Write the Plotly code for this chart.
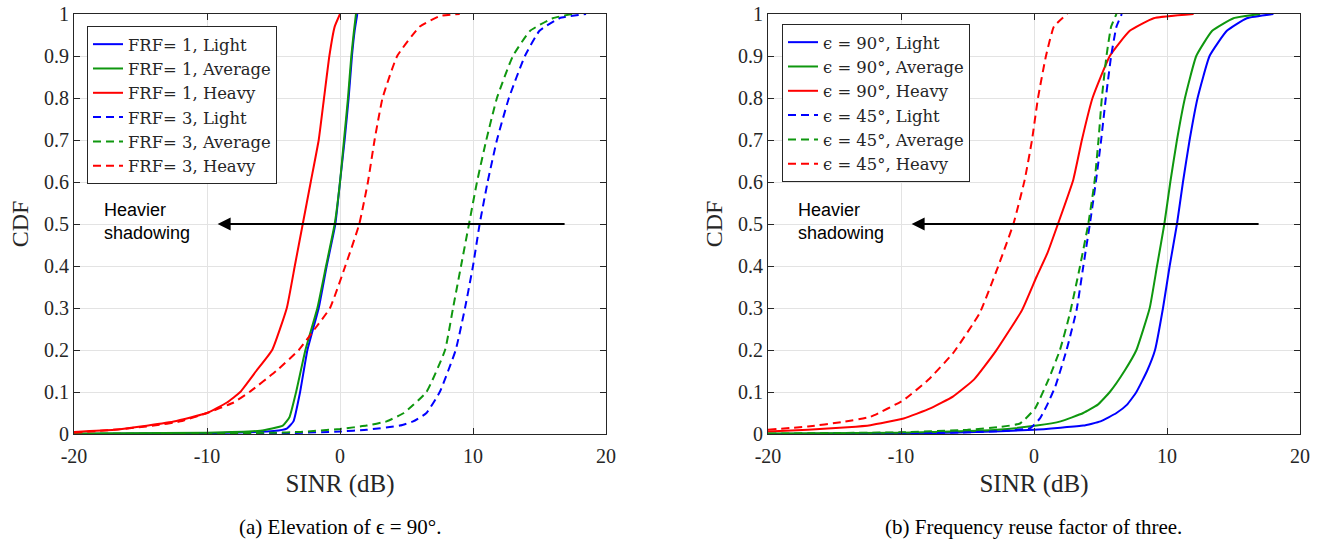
import plotly.graph_objects as go

# ---------------- data (left: elevation 90 deg) ----------------
frf1_light_x = [-20, -10, -5, -4, -3.5, -3.0, -2.45, -1.6, -1.0, -0.35, 0.0, 0.35, 0.65, 0.9, 1.1, 1.3]
frf1_light_y = [0.0, 0.002, 0.007, 0.013, 0.03, 0.1, 0.2, 0.3, 0.4, 0.5, 0.6, 0.7, 0.8, 0.9, 0.96, 1.0]
frf1_avg_x = [-20, -10, -6, -4.3, -3.8, -3.3, -2.6, -1.7, -1.05, -0.4, 0.0, 0.3, 0.6, 0.85, 1.05, 1.2]
frf1_avg_y = [0.001, 0.003, 0.008, 0.02, 0.04, 0.1, 0.2, 0.3, 0.4, 0.5, 0.6, 0.7, 0.8, 0.9, 0.96, 1.0]
frf1_heavy_x = [-20, -17, -15, -12.5, -10, -8.5, -7.5, -6.3, -5.1, -4.0, -3.4, -2.8, -2.2, -1.6, -1.2, -0.8, -0.4, 0.0]
frf1_heavy_y = [0.005, 0.01, 0.018, 0.03, 0.05, 0.075, 0.1, 0.15, 0.2, 0.3, 0.4, 0.5, 0.6, 0.7, 0.8, 0.9, 0.97, 1.0]
frf3_light_x = [-20, -5, 0, 2, 4.5, 5.5, 6.5, 7.5, 8.7, 9.4, 10.0, 10.5, 11.1, 11.8, 12.7, 13.9, 15.0, 16.5, 18.5]
frf3_light_y = [0.0, 0.001, 0.006, 0.01, 0.02, 0.03, 0.05, 0.1, 0.2, 0.3, 0.4, 0.5, 0.6, 0.7, 0.8, 0.9, 0.96, 0.99, 1.0]
frf3_avg_x = [-20, -5, -3, 0, 2, 3.5, 4.8, 6.5, 7.9, 8.5, 9.1, 9.7, 10.3, 11.0, 11.8, 13.0, 14.3, 16.0, 17.5]
frf3_avg_y = [0.0, 0.003, 0.005, 0.012, 0.02, 0.03, 0.05, 0.1, 0.2, 0.3, 0.4, 0.5, 0.6, 0.7, 0.8, 0.9, 0.96, 0.99, 1.0]
frf3_heavy_x = [-20, -17, -14, -12, -10, -8, -6.8, -4.8, -3.1, -1.9, -0.75, 0.4, 1.45, 2.1, 2.6, 3.2, 4.3, 6.0, 7.5, 9.0]
frf3_heavy_y = [0.003, 0.01, 0.02, 0.03, 0.05, 0.075, 0.1, 0.15, 0.2, 0.25, 0.3, 0.4, 0.5, 0.6, 0.7, 0.8, 0.9, 0.97, 0.995, 1.0]

# ---------------- data (right: FRF = 3) ----------------
e90_light_x = [-20, -10, -5, 0, 2, 3.7, 5, 6.2, 7.0, 7.7, 8.5, 9.1, 9.7, 10.2, 10.75, 11.2, 11.7, 12.3, 13.2, 14.5, 16, 18]
e90_light_y = [0.0, 0.001, 0.004, 0.01, 0.015, 0.02, 0.03, 0.05, 0.07, 0.1, 0.15, 0.2, 0.3, 0.4, 0.5, 0.6, 0.7, 0.8, 0.9, 0.96, 0.99, 1.0]
e90_avg_x = [-20, -10, -5, -2.8, 0.2, 2, 3.7, 4.8, 5.7, 6.8, 7.7, 8.7, 9.25, 9.8, 10.25, 10.75, 11.35, 12.2, 13.4, 15, 17]
e90_avg_y = [0.001, 0.003, 0.007, 0.01, 0.02, 0.03, 0.05, 0.07, 0.1, 0.15, 0.2, 0.3, 0.4, 0.5, 0.6, 0.7, 0.8, 0.9, 0.96, 0.99, 1.0]
e90_heavy_x = [-20, -17, -14, -12.3, -9.8, -7.8, -6.1, -4.5, -2.9, -0.9, 0.2, 1.0, 1.8, 2.95, 3.6, 4.4, 5.7, 7.2, 9.0, 12.0]
e90_heavy_y = [0.006, 0.01, 0.016, 0.021, 0.037, 0.061, 0.089, 0.13, 0.196, 0.295, 0.375, 0.43, 0.5, 0.605, 0.7, 0.8, 0.9, 0.96, 0.99, 1.0]
e45_light_x = [-20, -10, -5, -2, -0.3, 0.45, 1.0, 1.6, 2.45, 3.2, 3.7, 4.2, 4.65, 5.05, 5.4, 5.8, 6.2, 6.6]
e45_light_y = [0.0, 0.001, 0.004, 0.008, 0.014, 0.037, 0.07, 0.113, 0.2, 0.295, 0.398, 0.5, 0.6, 0.7, 0.8, 0.9, 0.97, 1.0]
e45_avg_x = [-20, -10, -5, -2.5, -1.05, 0.08, 1.08, 1.95, 2.7, 3.45, 4.08, 4.55, 4.85, 5.1, 5.45, 5.8, 6.2]
e45_avg_y = [0.001, 0.004, 0.01, 0.017, 0.025, 0.061, 0.129, 0.2, 0.287, 0.398, 0.5, 0.6, 0.7, 0.8, 0.9, 0.97, 1.0]
e45_heavy_x = [-20, -17, -14.5, -12.3, -9.8, -7.95, -6.1, -4.1, -2.8, -1.55, -0.7, -0.15, 0.3, 0.9, 1.5, 2.5]
e45_heavy_y = [0.01, 0.018, 0.028, 0.041, 0.081, 0.129, 0.192, 0.287, 0.39, 0.5, 0.605, 0.7, 0.8, 0.9, 0.97, 1.0]

left_names = ["FRF= 1, Light", "FRF= 1, Average", "FRF= 1, Heavy",
              "FRF= 3, Light", "FRF= 3, Average", "FRF= 3, Heavy"]
right_names = ["ϵ = 90°, Light", "ϵ = 90°, Average", "ϵ = 90°, Heavy",
               "ϵ = 45°, Light", "ϵ = 45°, Average", "ϵ = 45°, Heavy"]
x_ticks = [-20, -10, 0, 10, 20]
x_tick_labels = ["-20", "-10", "0", "10", "20"]
y_ticks = [0, 0.1, 0.2, 0.3, 0.4, 0.5, 0.6, 0.7, 0.8, 0.9, 1]
y_tick_labels = ["0", "0.1", "0.2", "0.3", "0.4", "0.5", "0.6", "0.7", "0.8", "0.9", "1"]

BLUE, GREEN, RED = "#0000FF", "#0F970F", "#FF0000"
colors = [BLUE, GREEN, RED, BLUE, GREEN, RED]
dashes = ["solid", "solid", "solid", "8px,5px", "8px,5px", "8px,5px"]
SERIF = "Liberation Serif"
LEG_FONT = "DejaVu Serif"
SANS = "Liberation Sans"
AX = "#262626"

left_data = [(frf1_light_x, frf1_light_y), (frf1_avg_x, frf1_avg_y), (frf1_heavy_x, frf1_heavy_y),
             (frf3_light_x, frf3_light_y), (frf3_avg_x, frf3_avg_y), (frf3_heavy_x, frf3_heavy_y)]
right_data = [(e90_light_x, e90_light_y), (e90_avg_x, e90_avg_y), (e90_heavy_x, e90_heavy_y),
              (e45_light_x, e45_light_y), (e45_avg_x, e45_avg_y), (e45_heavy_x, e45_heavy_y)]

fig = go.Figure()
for i, (xs, ys) in enumerate(left_data):
    fig.add_trace(go.Scatter(x=xs, y=ys, mode="lines", name=left_names[i],
                             line=dict(color=colors[i], width=2, dash=dashes[i],
                                       shape="spline", smoothing=0.4),
                             xaxis="x", yaxis="y", legend="legend"))
for i, (xs, ys) in enumerate(right_data):
    fig.add_trace(go.Scatter(x=xs, y=ys, mode="lines", name=right_names[i],
                             line=dict(color=colors[i], width=2, dash=dashes[i],
                                       shape="spline", smoothing=0.4),
                             xaxis="x2", yaxis="y2", legend="legend2"))

W, H = 1322, 540
ydom = [1 - 434 / H, 1 - 14 / H]
axis_common = dict(showline=True, linecolor=AX, linewidth=1, mirror="ticks",
                   ticks="inside", ticklen=6, tickcolor=AX, automargin=False,
                   showgrid=True, gridcolor="#E3E3E3", gridwidth=1,
                   zeroline=False, tickfont=dict(family=SERIF, size=20, color=AX))
xaxis = dict(axis_common, range=[-20, 20], tickvals=x_ticks, ticktext=x_tick_labels,
             ticklabelstandoff=4,
             title=dict(text="SINR (dB)", font=dict(family=SERIF, size=25, color=AX), standoff=8))
yaxis = dict(axis_common, range=[0, 1], tickvals=y_ticks, ticktext=y_tick_labels,
             title=dict(text="CDF", font=dict(family=SERIF, size=24, color=AX), standoff=8))

legend_common = dict(bgcolor="white", bordercolor=AX, borderwidth=1,
                     font=dict(family=LEG_FONT, size=16.4, color=AX),
                     xanchor="left", yanchor="top", tracegroupgap=0, itemwidth=30)

fig.update_layout(
    template="plotly_white",
    width=W, height=H, margin=dict(l=0, r=0, t=0, b=0, autoexpand=False),
    paper_bgcolor="white", plot_bgcolor="white",
    xaxis=dict(xaxis, domain=[74 / W, 606 / W], anchor="y"),
    yaxis=dict(yaxis, domain=ydom, anchor="x"),
    xaxis2=dict(xaxis, domain=[768 / W, 1300 / W], anchor="y2"),
    yaxis2=dict(yaxis, domain=ydom, anchor="x2"),
    legend=dict(legend_common, x=87 / W, y=1 - 26 / H),
    legend2=dict(legend_common, x=782 / W, y=1 - 24 / H),
    showlegend=True,
)

annotations = []
for xr, yr in [("x", "y"), ("x2", "y2")]:
    annotations.append(dict(x=-9.2, y=0.5, ax=17, ay=0.5, xref=xr, yref=yr, axref=xr, ayref=yr,
                            text="", showarrow=True, arrowhead=2, arrowsize=1.3, arrowwidth=2,
                            arrowcolor="black"))
    annotations.append(dict(x=-17.9, y=0.505, xref=xr, yref=yr, xanchor="left", yanchor="middle",
                            text="Heavier<br>shadowing", showarrow=False, align="left",
                            font=dict(family=SANS, size=18, color="black")))
annotations.append(dict(x=340 / W, y=1 - 527 / H, xref="paper", yref="paper", showarrow=False,
                        text="(a) Elevation of ϵ = 90°.", xanchor="center", yanchor="middle",
                        font=dict(family=SERIF, size=21, color="black")))
annotations.append(dict(x=1033 / W, y=1 - 527 / H, xref="paper", yref="paper", showarrow=False,
                        text="(b) Frequency reuse factor of three.", xanchor="center", yanchor="middle",
                        font=dict(family=SERIF, size=21, color="black")))
fig.update_layout(annotations=annotations)

fig.write_html("out.html")
